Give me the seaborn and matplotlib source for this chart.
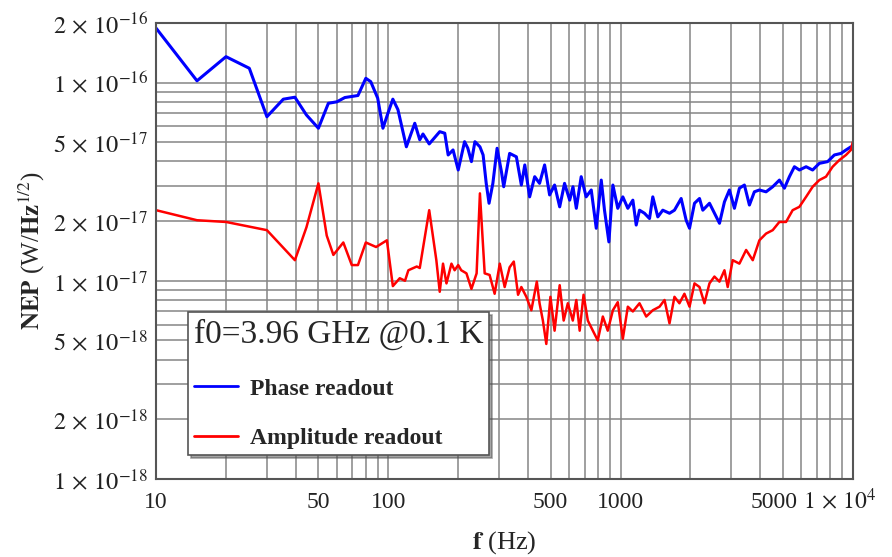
import pandas as pd
import numpy as np
import matplotlib
matplotlib.use('Agg')
import matplotlib.pyplot as plt
import matplotlib.ticker as mticker
import matplotlib.transforms as mtransforms
import seaborn as sns

# phase readout (NEP in units of 1e-17 W/Hz^1/2)
phase_f = [10, 15, 20, 25.2, 30, 35.3, 39.6, 44.4, 50, 55.2, 60, 65, 74, 80, 84, 90,
           94.8, 99.6, 104.6, 110, 119.6, 130, 136.6, 141, 150,
           166.5, 175, 181, 190, 200, 213, 220, 228, 236, 248, 256, 264, 271.5, 282,
           294, 307, 314, 333, 356, 374, 387, 406, 427, 448, 471, 495, 520, 547, 574,
           604, 624, 645, 677, 711, 748, 786, 826, 853, 891, 927, 973, 1023, 1075,
           1130, 1168, 1207,
           1268, 1333, 1377, 1447, 1520, 1625, 1707, 1824, 1917, 1982, 2082, 2188,
           2261, 2416, 2539, 2668, 2802, 2944, 3093, 3250, 3415, 3589, 3770, 3962,
           4233, 4522, 4833, 5078, 5336, 5608, 5893, 6297, 6718, 7178, 7795, 8333,
           8903, 9356, 9824, 10000]
phase_nep = [18.8, 10.2, 13.5, 11.8, 6.72, 8.24, 8.43, 6.86, 5.88, 7.86, 7.99, 8.4, 8.6,
             10.5, 10.1, 8.34, 5.88, 7.0, 8.24, 7.3, 4.74, 6.23, 5.14, 5.5, 4.9,
             5.65, 5.55, 4.31, 4.57, 3.62, 5.03, 4.66, 3.99, 5.03, 4.74, 4.31, 3.10,
             2.46, 3.10, 4.66, 3.55, 2.98, 4.39, 4.22, 3.04, 3.84, 2.65, 3.35, 3.10,
             3.84, 2.71, 3.04, 2.36, 3.10, 2.55, 2.98, 2.32, 3.35, 2.65, 2.87, 1.84,
             3.22, 2.27, 1.57, 3.04, 2.32, 2.65, 2.32, 2.55, 1.91, 2.27,
             2.19, 2.06, 2.65, 2.10, 2.27, 2.19, 2.27, 2.60, 2.02, 1.84, 2.46, 2.60,
             2.27, 2.46, 2.19, 1.95, 2.50, 2.87, 2.32, 2.93, 3.04, 2.41, 2.81, 2.87,
             2.81, 2.98, 3.22, 2.93, 3.35, 3.76, 3.62, 3.76, 3.62, 3.91, 3.99, 4.31,
             4.39, 4.57, 4.74, 4.7]

# amplitude readout (NEP in units of 1e-18 W/Hz^1/2)
amp_f = [10, 15, 20, 30, 39.6, 44.4, 50, 54.3, 58, 64, 69.6, 74, 80, 88.6, 98.6,
         104.6, 112, 118, 122, 132.6, 136.6, 150, 161,
         166.5, 172, 178, 187, 193, 200, 206, 217, 228, 240, 248, 260, 273, 287, 302,
         317, 333, 347, 362, 374, 393, 413, 436, 448, 463, 479, 499, 520, 547, 569,
         593, 623, 645, 667, 693, 723, 760, 798, 839, 881, 927, 973, 1023, 1075,
         1130, 1207,
         1290, 1377, 1472, 1547, 1625, 1707, 1793, 1884, 1982, 2082, 2188, 2298,
         2415, 2537, 2666, 2802, 2894, 3041, 3250, 3474, 3710, 3962, 4234, 4522,
         4830, 5160, 5510, 5890, 6295, 6720, 7178, 7670, 8190, 8750, 9350, 9820,
         10000]
amp_nep = [22.7, 20.2, 19.8, 18.0, 12.7, 18.6, 31, 16.9, 13.5, 15.6, 12.0, 12.0, 15.6,
           14.8, 16.0, 9.4, 10.3, 10.0, 11.3, 11.8, 11.6, 22.7, 12.7,
           8.8, 12.2, 9.7, 12.2, 11.3, 12.0, 11.3, 10.9, 9.1, 10.9, 27.6, 10.9, 10.7,
           8.6, 12.2, 9.3, 11.7, 12.5, 8.5, 9.3, 8.3, 7.1, 9.9, 7.7, 6.3, 4.8, 8.3,
           5.6, 9.5, 6.3, 7.7, 6.3, 8.0, 5.6, 8.5, 6.3, 5.6, 5.0, 6.6, 5.6, 7.1, 7.8,
           5.1, 7.4, 7.0, 7.7,
           6.6, 7.1, 7.4, 8.0, 6.1, 8.3, 7.7, 8.6, 7.4, 9.7, 9.3, 7.7, 9.7, 10.5, 9.9,
           11.3, 9.3, 12.7, 12.2, 14.3, 12.7, 16.0, 17.3, 18.0, 19.8, 19.8, 22.7, 23.6,
           26.5, 29.8, 32.2, 33.5, 37.6, 40.6, 43.1, 45.7, 50]

x_ticks = [10, 50, 100, 500, 1000, 5000, 10000]
x_labels = ['10', '50', '100', '500', '1000', '5000', r'$1\,\times\,10^{4}$']
y_ticks = [1e-18, 2e-18, 5e-18, 1e-17, 2e-17, 5e-17, 1e-16, 2e-16]
y_labels = [r'$1\,\times\,10^{-18}$', r'$2\,\times\,10^{-18}$', r'$5\,\times\,10^{-18}$',
            r'$1\,\times\,10^{-17}$', r'$2\,\times\,10^{-17}$', r'$5\,\times\,10^{-17}$',
            r'$1\,\times\,10^{-16}$', r'$2\,\times\,10^{-16}$']

df = pd.concat([
    pd.DataFrame({'f': phase_f, 'nep': np.array(phase_nep) * 1e-17, 'readout': 'Phase readout'}),
    pd.DataFrame({'f': amp_f, 'nep': np.array(amp_nep) * 1e-18, 'readout': 'Amplitude readout'}),
])

sns.set_style('white')
plt.rcParams['font.family'] = ['Liberation Serif', 'DejaVu Serif']
plt.rcParams['mathtext.fontset'] = 'stix'

fig = plt.figure(figsize=(8.92, 5.57), dpi=100)
ax = fig.add_axes([0.175, 0.14, 0.781, 0.819])

sns.lineplot(data=df, x='f', y='nep', hue='readout',
             palette={'Phase readout': '#0000ff', 'Amplitude readout': '#ff0000'},
             estimator=None, lw=2, ax=ax)
for line, w in zip(ax.lines, [2.2, 1.8]):
    line.set_linewidth(w)

ax.set_xscale('log')
ax.set_yscale('log')
ax.set_xlim(10, 10000)
ax.set_ylim(1e-18, 2e-16)

ax.xaxis.set_major_locator(mticker.FixedLocator(x_ticks))
ax.xaxis.set_major_formatter(mticker.FixedFormatter(x_labels))
ax.xaxis.set_minor_locator(mticker.LogLocator(base=10, subs=np.arange(2, 10)))
ax.xaxis.set_minor_formatter(mticker.NullFormatter())
ax.yaxis.set_major_locator(mticker.FixedLocator(y_ticks))
ax.yaxis.set_major_formatter(mticker.FixedFormatter(y_labels))
ax.yaxis.set_minor_locator(mticker.LogLocator(base=10, subs=np.arange(1, 10)))
ax.yaxis.set_minor_formatter(mticker.NullFormatter())

ax.grid(True, which='both', color='#858585', lw=1.1)
ax.set_axisbelow(True)
ax.tick_params(which='major', direction='in', length=5, width=1, colors='#444',
               labelcolor='#222')
ax.tick_params(axis='y', labelsize=17.5, pad=6)
ax.tick_params(axis='x', labelsize=17, pad=21)
ax.tick_params(which='minor', direction='in', length=0)
for lab in ax.get_xticklabels():
    lab.set_va('baseline')
# the last two labels sit a bit left of their ticks, as in the reference
for lab, dx in zip(ax.get_xticklabels()[-2:], [-9, -13]):
    lab.set_transform(lab.get_transform() +
                      mtransforms.ScaledTranslation(dx / 100, 0, fig.dpi_scale_trans))
for s in ax.spines.values():
    s.set_color('#555')
    s.set_linewidth(1.5)

ax.set_xlabel(r'$\mathbf{f}$ (Hz)', fontsize=19)
ax.xaxis.set_label_coords(0.5, -0.11)
ax.set_ylabel(r'$\mathbf{NEP}$ (W/$\mathbf{Hz}^{1/2}$)', fontsize=18, labelpad=4)

handles, labels = ax.get_legend_handles_labels()
leg = ax.legend(handles, labels, title='f0=3.96 GHz @0.1 K', loc='lower left',
                bbox_to_anchor=(0.046, 0.052), frameon=True, fancybox=False,
                shadow=True, edgecolor='#555', framealpha=1,
                prop={'size': 17, 'weight': 'bold'}, title_fontsize=24,
                handlelength=1.85, handletextpad=0.5, labelspacing=1.2,
                borderpad=0.25, borderaxespad=0)
leg._legend_box.align = 'left'
leg.get_frame().set_linewidth(1.2)

fig.savefig('out.png', dpi=100)
